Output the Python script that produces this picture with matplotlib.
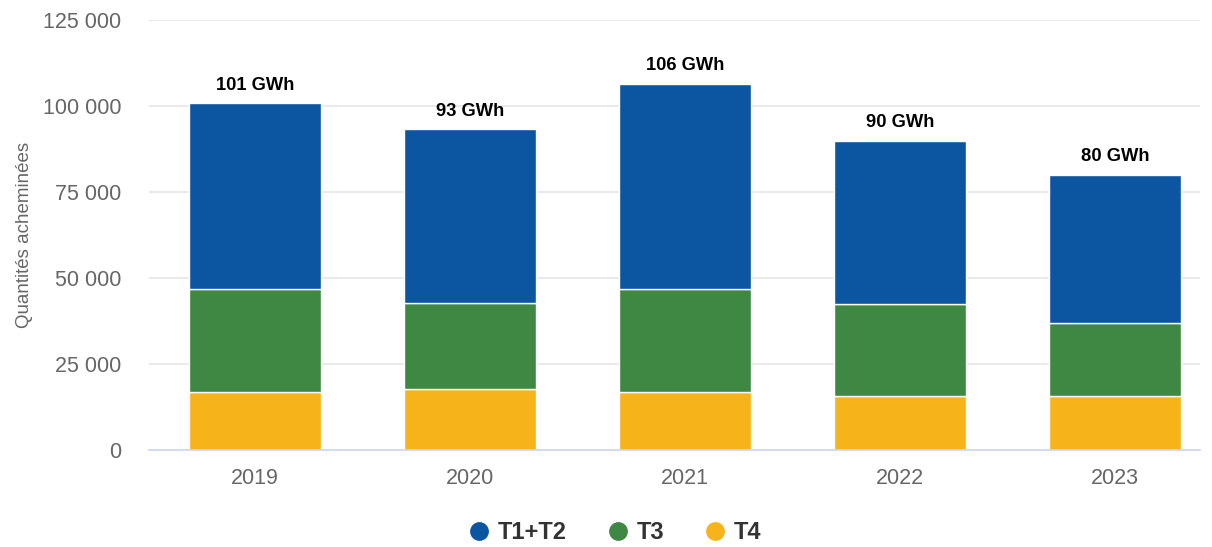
import matplotlib
matplotlib.use("Agg")
import matplotlib.pyplot as plt
from matplotlib.lines import Line2D
from matplotlib.ticker import FuncFormatter, MultipleLocator

plt.rcParams['font.family'] = ['Liberation Sans', 'DejaVu Sans']

# data (MWh)
years = ['2019', '2020', '2021', '2022', '2023']
t4 = [16800, 17700, 16800, 15800, 15800]
t3 = [30000, 25100, 30000, 26600, 21200]
t1t2 = [54000, 50500, 59600, 47500, 43150]
total_labels = ['101 GWh', '93 GWh', '106 GWh', '90 GWh', '80 GWh']

c_blue = '#0c55a1'
c_green = '#3f8843'
c_yellow = '#f7b31a'

fig = plt.figure(figsize=(12.12, 5.47), dpi=100)
ax = fig.add_axes([0.123, 0.177, 0.867, 0.786])

x = list(range(len(years)))
w = 0.61
ax.bar(x, t4, w, color=c_yellow, edgecolor='white', linewidth=1, zorder=3)
ax.bar(x, t3, w, bottom=t4, color=c_green, edgecolor='white', linewidth=1, zorder=3)
bottoms = [a + b for a, b in zip(t4, t3)]
ax.bar(x, t1t2, w, bottom=bottoms, color=c_blue, edgecolor='white', linewidth=1, zorder=3)

for i, lab in enumerate(total_labels):
    top = bottoms[i] + t1t2[i]
    ax.annotate(lab, (x[i], top), xytext=(0, 7), textcoords='offset points',
                ha='center', va='bottom', fontsize=13.2, fontweight='bold', color='black')

ax.set_ylim(0, 125000)
ax.set_xlim(-0.493, 4.395)
ax.yaxis.set_major_locator(MultipleLocator(25000))
ax.yaxis.set_major_formatter(FuncFormatter(lambda v, p: f"{int(v):,}".replace(',', ' ')))
ax.set_xticks(x)
ax.set_xticklabels(years)
ax.tick_params(axis='both', length=0, labelsize=15.5, colors='#666666')
ax.tick_params(axis='y', pad=20)
ax.tick_params(axis='x', pad=13)
ax.grid(axis='y', color='#e6e6e6', linewidth=1.2, zorder=0)
for s in ['top', 'right', 'left']:
    ax.spines[s].set_visible(False)
ax.spines['bottom'].set_color('#ccd6eb')
ax.spines['bottom'].set_linewidth(1.2)
ax.spines['bottom'].set_zorder(4)

ax.set_ylabel('Quantités acheminées', fontsize=13.5, color='#666666', labelpad=7)

handles = [Line2D([], [], marker='o', linestyle='', markersize=12.5, color=c)
           for c in [c_blue, c_green, c_yellow]]
fig.legend(handles, ['T1+T2', 'T3', 'T4'], loc='center', bbox_to_anchor=(0.507, 0.026),
           ncol=3, frameon=False, handlelength=1.0, handletextpad=0.3, columnspacing=1.65,
           prop={'size': 17, 'weight': 'bold'}, labelcolor='#333333')

fig.savefig('out.png', dpi=100)
